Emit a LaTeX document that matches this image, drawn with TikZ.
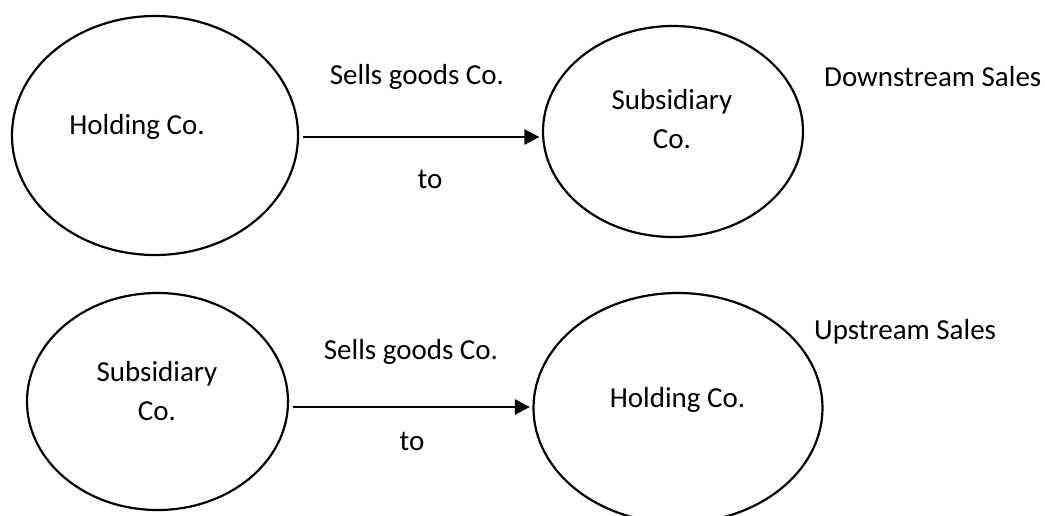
\documentclass[tikz,border=0pt]{standalone}
\usepackage{fontspec}
\setmainfont{Carlito}
\usetikzlibrary{shapes.geometric,arrows.meta}

\tikzset{
  firm/.style={draw, ellipse, line width=2.2pt, inner sep=0pt},
  words/.style={inner sep=0pt, font=\fontsize{29}{39}\selectfont, align=center},
  sale/.style={line width=2.6pt, -{Triangle[length=15pt,width=15pt]},
               shorten <=4pt, shorten >=2.5pt},
}

\begin{document}
\begin{tikzpicture}[x=1pt, y=-1pt]
  \useasboundingbox (0,0) rectangle (1045,515);

  % Downstream: holding company sells to its subsidiary
  \node[firm, minimum width=286pt, minimum height=239pt] (h1) at (155,135.5) {};
  \node[firm, minimum width=260pt, minimum height=211pt] (s1) at (673,131.5) {};
  \node[words, anchor=base] (h1t) at (137,134) {Holding Co.};
  % two-line labels sit on the baseline of their last line
  \node[words, anchor=base] (s1t) at (672,148) {Subsidiary\\Co.};
  \node[words, anchor=base] (sell1) at (417,84) {Sells goods Co.};
  \node[words, anchor=base] (to1) at (430,188) {to};
  \node[words, anchor=base west] (down) at (824,86) {Downstream Sales};
  \draw[sale] (h1.east |- 0,137) -- (s1.west |- 0,137);

  % Upstream: subsidiary sells to its holding company
  \node[firm, minimum width=261pt, minimum height=217pt] (s2) at (157.5,401.5) {};
  \node[firm, minimum width=289pt, minimum height=230pt] (h2) at (678,408) {};
  \node[words, anchor=base] (s2t) at (157,420) {Subsidiary\\Co.};
  \node[words, anchor=base] (h2t) at (677.5,407) {Holding Co.};
  \node[words, anchor=base] (sell2) at (411,359) {Sells goods Co.};
  \node[words, anchor=base] (to2) at (412,450) {to};
  \node[words, anchor=base west] (up) at (814,339) {Upstream Sales};
  \draw[sale] (s2.east |- 0,407) -- (h2.west |- 0,407);
\end{tikzpicture}
\end{document}
